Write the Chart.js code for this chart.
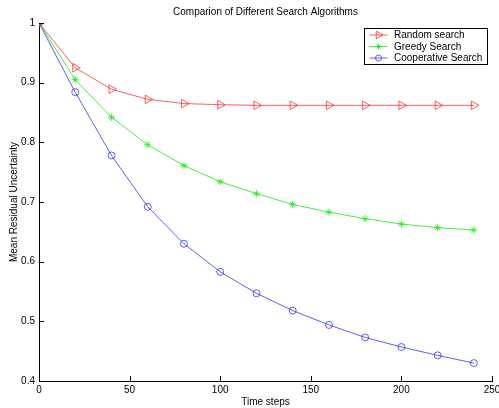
<!DOCTYPE html>
<html>
<head>
<meta charset="utf-8">
<script src="https://cdn.jsdelivr.net/npm/chart.js@4/dist/chart.umd.min.js"></script>
<style>
  html, body { margin: 0; padding: 0; background: #fff; }
  #wrap { width: 499px; height: 408px; }
</style>
</head>
<body>
<div id="wrap"><canvas id="chart" width="499" height="408"></canvas></div>
<script>
// data
const timeSteps = [0, 20, 40, 60, 80, 100, 120, 140, 160, 180, 200, 220, 240];
const randomSearch = [1.0, 0.925, 0.889, 0.872, 0.865, 0.863, 0.862, 0.862, 0.862, 0.862, 0.862, 0.862, 0.862];
const greedySearch = [1.0, 0.905, 0.842, 0.796, 0.761, 0.734, 0.714, 0.696, 0.683, 0.672, 0.663, 0.657, 0.653];
const coopSearch = [1.0, 0.884, 0.778, 0.692, 0.630, 0.583, 0.547, 0.518, 0.494, 0.473, 0.457, 0.443, 0.430];
const seriesNames = ['Random search', 'Greedy Search', 'Cooperative Search'];
const xTicks = [0, 50, 100, 150, 200, 250];
const yTicks = [0.4, 0.5, 0.6, 0.7, 0.8, 0.9, 1.0];

const FONT = '"Liberation Sans", Arial, Helvetica, sans-serif';
const red = 'rgba(255,40,40,0.75)';
const green = 'rgba(20,235,20,0.8)';
const blue = 'rgba(40,40,255,0.75)';

function toPoints(vals) {
  return vals.map((v, i) => ({ x: timeSteps[i], y: v }));
}

// matlab style ticks pointing into the plot
const innerTicks = {
  id: 'innerTicks',
  afterDatasetsDraw(chart) {
    const ctx = chart.ctx;
    const xs = chart.scales.x, ys = chart.scales.y;
    const area = chart.chartArea;
    ctx.save();
    ctx.strokeStyle = '#000';
    ctx.lineWidth = 1;
    ctx.beginPath();
    xs.ticks.forEach((t, i) => {
      const px = Math.round(xs.getPixelForTick(i)) + 0.5;
      ctx.moveTo(px, area.bottom);
      ctx.lineTo(px, area.bottom - 5);
    });
    ys.ticks.forEach((t, i) => {
      const py = Math.round(ys.getPixelForTick(i)) + 0.5;
      ctx.moveTo(area.left, py);
      ctx.lineTo(area.left + 5, py);
    });
    ctx.stroke();
    ctx.restore();
  }
};

// legend box with line + marker samples
const boxLegend = {
  id: 'boxLegend',
  afterDraw(chart) {
    const ctx = chart.ctx;
    const x0 = 364.5, y0 = 28.5, w = 123, h = 36;
    ctx.save();
    ctx.fillStyle = '#fff';
    ctx.fillRect(x0, y0, w, h);
    ctx.strokeStyle = '#000';
    ctx.lineWidth = 1;
    ctx.strokeRect(x0, y0, w, h);
    ctx.font = '10px ' + FONT;
    ctx.textBaseline = 'middle';
    ctx.textAlign = 'left';
    chart.data.datasets.forEach((ds, i) => {
      const y = y0 + 6.5 + i * 11.5;
      ctx.strokeStyle = ds.borderColor;
      ctx.beginPath();
      ctx.moveTo(x0 + 5, y);
      ctx.lineTo(x0 + 23, y);
      ctx.stroke();
      ctx.fillStyle = 'rgba(0,0,0,0)';
      Chart.helpers.drawPoint(ctx, {
        pointStyle: ds.pointStyle,
        rotation: ds.pointRotation || 0,
        radius: ds.pointRadius - 0.5,
        borderWidth: 1
      }, x0 + 14, y);
      ctx.fillStyle = '#000';
      ctx.fillText(ds.label, x0 + 29.5, y + 0.5);
    });
    ctx.restore();
  }
};

new Chart(document.getElementById('chart').getContext('2d'), {
  type: 'line',
  data: {
    datasets: [
      {
        label: seriesNames[0], data: toPoints(randomSearch),
        borderColor: red, backgroundColor: 'rgba(0,0,0,0)',
        pointStyle: 'triangle', pointRotation: 90, pointRadius: 5,
        pointBorderColor: red, pointBackgroundColor: 'rgba(0,0,0,0)'
      },
      {
        label: seriesNames[1], data: toPoints(greedySearch),
        borderColor: green, backgroundColor: 'rgba(0,0,0,0)',
        pointStyle: 'star', pointRadius: 3.5,
        pointBorderColor: green, pointBackgroundColor: 'rgba(0,0,0,0)'
      },
      {
        label: seriesNames[2], data: toPoints(coopSearch),
        borderColor: blue, backgroundColor: 'rgba(0,0,0,0)',
        pointStyle: 'circle', pointRadius: 3.5,
        pointBorderColor: blue, pointBackgroundColor: 'rgba(0,0,0,0)'
      }
    ]
  },
  options: {
    responsive: false,
    animation: false,
    layout: { padding: { left: 0, right: 7, top: 0, bottom: 0 } },
    elements: {
      line: { borderWidth: 1, tension: 0 },
      point: { borderWidth: 1, hoverRadius: 4 }
    },
    plugins: {
      legend: { display: false },
      tooltip: { enabled: false },
      title: {
        display: true,
        fullSize: false,
        text: 'Comparion of Different Search Algorithms',
        color: '#000',
        font: { family: FONT, size: 10, weight: 'normal' },
        padding: { top: 6, bottom: 5 }
      }
    },
    scales: {
      x: {
        type: 'linear',
        min: 0, max: 250,
        afterBuildTicks: s => { s.ticks = xTicks.map(v => ({ value: v })); },
        afterFit: s => { s.height = 27; s.paddingLeft = 0; s.paddingRight = 0; },
        grid: { display: true, drawOnChartArea: false, drawTicks: false },
        border: { display: true, color: '#000', width: 1 },
        ticks: { color: '#000', font: { family: FONT, size: 10 }, padding: 3, maxRotation: 0 },
        title: {
          display: true, text: 'Time steps', color: '#000',
          font: { family: FONT, size: 10 }, padding: { top: 0, bottom: 0 }
        }
      },
      y: {
        type: 'linear',
        min: 0.4, max: 1.0,
        afterBuildTicks: s => { s.ticks = yTicks.map(v => ({ value: v })); },
        afterFit: s => { s.width = 39; s.paddingTop = 0; s.paddingBottom = 0; },
        grid: { display: true, drawOnChartArea: false, drawTicks: false },
        border: { display: true, color: '#000', width: 1 },
        ticks: {
          color: '#000', font: { family: FONT, size: 10 }, padding: 4,
          callback: v => String(+v.toFixed(1))
        },
        title: {
          display: true, text: 'Mean Residual Uncertainty', color: '#000',
          font: { family: FONT, size: 10 }, padding: { top: 8.5, bottom: 0 }
        }
      }
    }
  },
  plugins: [innerTicks, boxLegend]
});
</script>
</body>
</html>
